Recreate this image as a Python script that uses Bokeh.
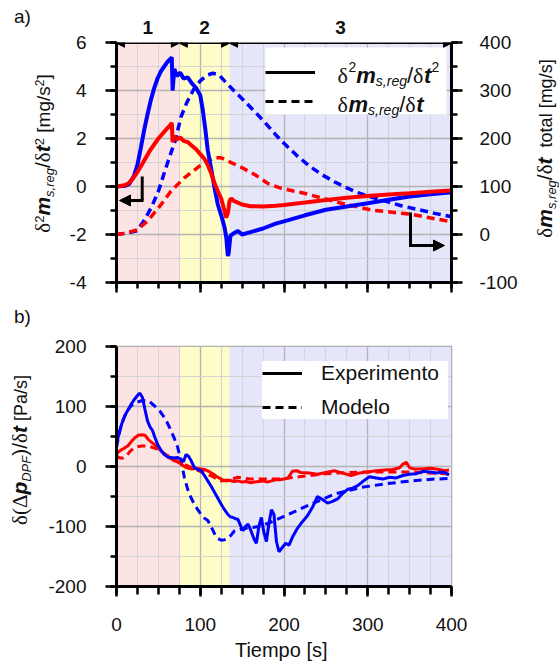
import math
from bokeh.plotting import figure
from bokeh.models import (Range1d, LinearAxis, FixedTicker, BoxAnnotation, Label,
                          Arrow, NormalHead, Legend, LegendItem, Div)
from bokeh.layouts import column
from bokeh.embed import file_html
from bokeh.resources import INLINE

SANS = "Liberation Sans"
SERIF = "Liberation Serif"
BLUE = "#0000ff"
RED = "#ff0000"
INK = "#111111"

# ---------------- data ----------------
region_edges = [0, 75, 135, 400]
region_names = ["1", "2", "3"]
region_colors = ["#fde4e4", "#fefdc8", "#e6e6fa"]

x_major = [0, 100, 200, 300, 400]
x_minor = list(range(0, 401, 25))
a_left_major = [-4, -2, 0, 2, 4, 6]
a_left_minor = list(range(-4, 7))
a_right_major = [-100, 0, 100, 200, 300, 400]
a_right_minor = list(range(-100, 401, 50))
b_major = [-200, -100, 0, 100, 200]
b_minor = list(range(-200, 201, 50))

# panel a) second derivative (left axis, mg/s^2)
a_t_blue = [0, 10, 15, 21, 25, 29, 33, 37, 41, 45, 49, 53, 57, 61, 64, 66, 67, 69, 72, 76,
            80, 85, 90, 95, 100, 103, 106, 109, 113, 117, 121, 125, 129, 131, 133, 134, 136, 140, 145, 150,
            160, 175, 190, 200, 225, 250, 275, 300, 325, 350, 375, 400]
a_d2_blue = [0, 0.03, 0.1, 0.45, 0.9, 1.6, 2.35, 3.0, 3.6, 4.1, 4.5, 4.8, 5.0, 5.2, 5.3, 5.38, 4.0, 4.9, 4.6, 4.75,
             4.5, 4.55, 4.3, 4.1, 3.8, 3.2, 2.4, 1.5, 0.75, -0.05, -0.75, -1.2, -1.7, -2.1, -2.9, -2.75, -2.05, -1.95, -1.85, -2.0,
             -1.9, -1.75, -1.55, -1.45, -1.2, -0.97, -0.83, -0.7, -0.55, -0.42, -0.32, -0.24]
a_t_red = [0, 10, 15, 20, 25, 30, 35, 40, 45, 50, 55, 60, 64, 66, 67, 69, 72, 76, 80, 85,
           90, 95, 100, 105, 109, 113, 117, 121, 125, 128, 131, 133, 135, 137, 140, 150, 160, 175, 190, 200,
           225, 250, 275, 300, 325, 350, 375, 400]
a_d2_red = [0, 0.05, 0.15, 0.35, 0.6, 0.9, 1.2, 1.5, 1.75, 2.0, 2.2, 2.4, 2.55, 2.65, 1.85, 2.1, 1.95, 2.05, 1.9, 1.85,
            1.7, 1.55, 1.35, 1.15, 0.9, 0.55, 0.15, -0.2, -0.5, -0.9, -1.3, -1.1, -0.6, -0.5, -0.6, -0.75, -0.82, -0.83, -0.8, -0.77,
            -0.67, -0.56, -0.47, -0.4, -0.33, -0.28, -0.22, -0.17]
# panel a) first derivative total (right axis, mg/s)
a_t_dm_blue = [0, 12, 25, 35, 42, 50, 57, 63, 70, 77, 84, 92, 100, 108, 115, 122, 130, 140, 150, 160,
               170, 180, 190, 200, 215, 230, 245, 260, 275, 290, 300, 320, 340, 360, 380, 400]
a_dm_blue = [0, 3, 8, 35, 58, 90, 128, 160, 195, 245, 275, 302, 320, 332, 336, 333, 318, 300, 283, 265,
             247, 228, 208, 190, 165, 143, 125, 110, 97, 86, 80, 70, 60, 52, 44, 37]
a_t_dm_red = [0, 12, 25, 37, 50, 65, 81, 101, 117, 125, 133, 149, 165, 181, 197, 224, 264, 304, 352, 392, 400]
a_dm_red = [0, 3, 10, 28, 55, 90, 118, 145, 160, 160, 153, 140, 125, 106, 96, 86, 67, 51, 42, 29, 27]

# panel b) d(dp)/dt (Pa/s)
b_t_blue_exp = [0, 3, 6, 10, 14, 18, 22, 26, 28, 31, 34, 37, 40, 43, 46, 49, 53, 57, 61, 65,
                69, 73, 77, 80, 83, 86, 89, 93, 97, 101, 105, 109, 113, 117, 121, 125, 129, 133, 136, 139,
                142, 145, 148, 151, 154, 157, 160, 164, 167, 170, 173, 176, 179, 182, 185, 188, 191, 194, 198, 202,
                206, 210, 216, 222, 228, 234, 240, 246, 252, 258, 264, 270, 276, 282, 288, 295, 302, 310, 318, 326,
                334, 342, 350, 358, 366, 374, 382, 390, 397]
b_blue_exp = [37, 55, 70, 85, 95, 105, 113, 120, 122, 115, 95, 76, 66, 60, 48, 37, 27, 20, 16, 15,
              14, 15, 12, 8, 20, 17, 10, -2, -5, -7, -15, -24, -33, -43, -53, -63, -72, -80, -84, -85,
              -87, -88, -98, -107, -100, -96, -105, -120, -128, -100, -85, -110, -125, -95, -72, -80, -125, -142, -135, -128,
              -131, -118, -103, -92, -82, -68, -50, -55, -61, -58, -54, -45, -38, -36, -32, -24, -17, -19, -21, -18,
              -19, -15, -13, -12, -8, -9, -11, -9, -14]
b_t_blue_mod = [0, 4, 8, 13, 18, 24, 31, 39, 47, 52, 57, 61, 65, 69, 73, 77, 81, 85, 89, 93,
                97, 101, 105, 109, 113, 117, 121, 125, 129, 133, 137, 141, 150, 160, 170, 184, 200, 232, 260, 292,
                320, 352, 380, 397]
b_blue_mod = [32, 60, 78, 93, 102, 107, 110, 109, 99, 92, 82, 72, 60, 47, 32, 10, -18, -38, -52, -63,
              -72, -80, -86, -90, -100, -112, -120, -123, -122, -120, -114, -107, -104, -102, -100, -93, -83, -63, -46, -35,
              -29, -24, -21, -20]
b_t_red_exp = [0, 3, 6, 10, 14, 18, 22, 26, 30, 34, 38, 42, 46, 50, 54, 58, 62, 66, 70, 74,
               78, 82, 86, 90, 95, 100, 105, 110, 115, 120, 125, 130, 135, 140, 145, 150, 155, 160, 165, 170,
               175, 180, 185, 190, 195, 200, 205, 210, 215, 220, 230, 240, 250, 260, 270, 280, 290, 300, 310, 320,
               330, 338, 342, 346, 350, 355, 365, 375, 385, 392, 397]
b_red_exp = [21, 25, 28, 31, 35, 42, 48, 52, 53, 52, 45, 40, 36, 31, 25, 20, 15, 12, 9, 7,
             3, -1, -3, -4, -3, -4, -5, -8, -12, -17, -21, -24, -23, -25, -24, -26, -25, -27, -26, -25,
             -24, -26, -24, -22, -22, -21, -19, -8, -7, -10, -11, -13, -10, -7, -11, -15, -11, -9, -7, -6,
             -5, -2, 4, 7, -2, -4, -4, -3, -5, -7, -6]
b_t_red_mod = [0, 4, 8, 12, 16, 20, 25, 30, 35, 40, 45, 50, 55, 60, 65, 70, 75, 80, 85, 90,
               95, 100, 105, 110, 115, 120, 125, 130, 135, 140, 145, 150, 160, 175, 190, 200, 225, 250, 275, 300,
               325, 350, 375, 397]
b_red_mod = [18, 14, 14, 18, 25, 30, 33, 34, 34, 33, 31, 28, 24, 19, 15, 11, 7, 4, 1, -2,
             -5, -8, -11, -14, -17, -21, -24, -23, -22, -20, -18, -19, -21, -21, -21, -20, -16, -12, -10, -9,
             -9, -9, -11, -12]

legend_b_labels = ["Experimento", "Modelo"]
x_title = "Tiempo  [s]"

# ---------------- geometry (page px) ----------------
FL, FW, FH = 116, 335, 240
A_TOP = 42          # top of panel a frame
A_H = 312           # height of panel a canvas
B_TOP = 346         # top of panel b frame (page)
B_BOT = 80          # bottom border of panel b
RB = 107            # right border
TOTAL_H = A_H + (B_TOP - A_H) + FH + B_BOT


def tx(px):
    return (px - FL) * 400.0 / FW


def ay(px):
    return 6 - (px - A_TOP) * 10.0 / FH


SANS_W = {' ': .278, '(': .333, ')': .333, ',': .278, '/': .278, '[': .278, ']': .278,
          '2': .556, 'a': .556, 'e': .556, 'g': .556, 'l': .222, 'm': .833, 'o': .556,
          'p': .556, 'r': .333, 's': .5, 't': .278, 'D': .722, 'F': .611, 'P': .667}
BI_W = dict(SANS_W, m=.889, t=.333, p=.611)
SERIF_W = {'δ': .5, '(': .333, 'Δ': .612, ')': .333}


def text_width(s, size, font, style):
    table = SERIF_W if font == SERIF else (BI_W if "bold" in style else SANS_W)
    return sum(table.get(c, .55) for c in s) * size


def math_text_in_frame(p, pieces, left, base):
    """legend texts (inside the frame): chained canvas-unit labels"""
    cur = left
    for (s, sz, f, st, sh) in pieces:
        p.add_layout(Label(x=cur, y=base + sh, x_units="canvas", y_units="canvas", text=s,
                           text_font=f, text_font_size=f"{sz}px", text_font_style=st,
                           text_color=INK, text_align="left", text_baseline="alphabetic",
                           level="overlay"))
        cur += text_width(s, sz, f, st)


def style_axis(ax, maj_out=10, min_out=6):
    ax.axis_line_width = 3
    ax.axis_line_color = "black"
    ax.major_tick_line_width = 2.5
    ax.minor_tick_line_width = 2.5
    ax.major_tick_line_color = "black"
    ax.minor_tick_line_color = "black"
    ax.major_tick_in = 0
    ax.minor_tick_in = 0
    ax.major_tick_out = maj_out
    ax.minor_tick_out = min_out
    ax.major_label_text_font = SANS
    ax.major_label_text_font_size = "19px"
    ax.major_label_text_color = INK


def plain_labels(ticks):
    return {v: str(v) for v in ticks}


def style_grid(p):
    for g in list(p.xgrid) + list(p.ygrid):
        g.grid_line_color = "#b4b4b4"
        g.grid_line_width = 1.3
        g.minor_grid_line_color = "#d4d4d4"
        g.minor_grid_line_width = 1.1


def add_regions(p):
    for i in range(len(region_names)):
        p.add_layout(BoxAnnotation(left=region_edges[i], right=region_edges[i + 1],
                                   fill_color=region_colors[i], fill_alpha=1.0,
                                   line_color=None, level="image"))


# ---------------- panel a ----------------
p1 = figure(frame_width=FW, frame_height=FH, x_range=Range1d(0, 400), y_range=Range1d(-4, 6),
            output_backend="svg", toolbar_location=None,
            min_border_left=FL, min_border_right=RB, min_border_top=A_TOP, min_border_bottom=A_H - A_TOP - FH,
            background_fill_color="white", border_fill_color="white")
p1.extra_y_ranges = {"r": Range1d(-100, 400)}
p1.outline_line_color = "#a0a0a0"
add_regions(p1)

p1.xaxis.ticker = FixedTicker(ticks=x_major, minor_ticks=x_minor)
style_axis(p1.xaxis[0], 10, 6)
p1.xaxis.major_label_overrides = {v: "" for v in x_major}
p1.xaxis.major_label_text_font_size = "1px"
p1.xaxis.major_label_standoff = 0
p1.yaxis.ticker = FixedTicker(ticks=a_left_major, minor_ticks=a_left_minor)
style_axis(p1.yaxis[0], 11, 6)
p1.yaxis.major_label_standoff = 19
p1.yaxis.major_label_overrides = plain_labels(a_left_major)
ax_r = LinearAxis(y_range_name="r", ticker=FixedTicker(ticks=a_right_major, minor_ticks=a_right_minor))
style_axis(ax_r, 11, 6)
ax_r.major_label_standoff = 17
ax_r.major_label_overrides = plain_labels(a_right_major)
p1.add_layout(ax_r, "right")

region_mids = [(region_edges[i] + region_edges[i + 1]) / 2 for i in range(len(region_names))]
ax_top = LinearAxis(ticker=FixedTicker(ticks=region_mids, minor_ticks=[]),
                    major_label_overrides={m: n for m, n in zip(region_mids, region_names)},
                    axis_line_color=None, major_tick_line_color=None, minor_tick_line_color=None,
                    major_label_standoff=3, major_label_text_font=SANS, major_label_text_font_size="19px",
                    major_label_text_font_style="bold", major_label_text_color=INK)
p1.add_layout(ax_top, "above")

p1.xgrid.ticker = FixedTicker(ticks=x_major, minor_ticks=x_minor)
p1.ygrid.ticker = FixedTicker(ticks=a_left_major, minor_ticks=a_left_minor)
style_grid(p1)

p1.line(a_t_dm_blue, a_dm_blue, y_range_name="r", line_color=BLUE, line_width=3.5, line_dash="8 5")
p1.line(a_t_dm_red, a_dm_red, y_range_name="r", line_color=RED, line_width=3.5, line_dash="8 5")
p1.line(a_t_blue, a_d2_blue, line_color=BLUE, line_width=4)
p1.line(a_t_red, a_d2_red, line_color=RED, line_width=4)

p1.add_layout(BoxAnnotation(left=tx(265), right=tx(446), top=ay(47), bottom=ay(114),
                            fill_color="white", fill_alpha=1.0, line_color=None, level="annotation"))
k1 = p1.line(a_t_blue, a_d2_blue, line_color="black", line_width=3, visible=False)
k2 = p1.line(a_t_dm_blue, a_dm_blue, y_range_name="r", line_color="black", line_width=3,
             line_dash="8 5", visible=False)
leg1 = Legend(items=[LegendItem(label="", renderers=[k1]), LegendItem(label="", renderers=[k2])],
              location=(265 - FL, (A_TOP + FH) - 114), orientation="vertical",
              glyph_width=50, glyph_height=26, label_height=26, label_width=100,
              label_standoff=18, padding=6, spacing=3, margin=0,
              border_line_color=None, background_fill_alpha=0.0, inactive_fill_alpha=0.0,
              label_text_font=SANS, label_text_font_size="12px")
p1.add_layout(leg1, "center")

for i in range(len(region_names)):
    p1.add_layout(Arrow(x_start=region_edges[i], y_start=5.97, x_end=region_edges[i + 1], y_end=5.97,
                        line_color="black", line_width=1.5,
                        start=NormalHead(size=8, fill_color="black", line_color="black", line_width=1),
                        end=NormalHead(size=8, fill_color="black", line_color="black", line_width=1)))

p1.add_layout(Arrow(x_start=tx(141.7), y_start=ay(176), x_end=tx(141.7), y_end=ay(200),
                    line_color="black", line_width=3, end=None))
p1.add_layout(Arrow(x_start=tx(143), y_start=ay(200), x_end=tx(119), y_end=ay(200),
                    line_color="black", line_width=3,
                    end=NormalHead(size=11, fill_color="black", line_color="black", line_width=1)))
p1.add_layout(Arrow(x_start=tx(410), y_start=ay(212), x_end=tx(410), y_end=ay(245),
                    line_color="black", line_width=3, end=None))
p1.add_layout(Arrow(x_start=tx(408.5), y_start=ay(245), x_end=tx(444), y_end=ay(245),
                    line_color="black", line_width=3,
                    end=NormalHead(size=11, fill_color="black", line_color="black", line_width=1)))

BI, IT, NO = "bold italic", "italic", "normal"
math_text_in_frame(p1, [("δ", 22, SERIF, NO, 0), ("2", 14, SANS, NO, -9), ("m", 22, SANS, BI, 0),
                        ("s,reg", 14, SANS, IT, 5), ("/", 22, SANS, NO, 0), ("δ", 22, SERIF, NO, 0),
                        ("t", 22, SANS, BI, 0), ("2", 14, SANS, NO, -9)], 337, 75)
math_text_in_frame(p1, [("δ", 22, SERIF, NO, 0), ("m", 22, SANS, BI, 0), ("s,reg", 14, SANS, IT, 5),
                        ("/", 22, SANS, NO, 0), ("δ", 22, SERIF, NO, 0), ("t", 22, SANS, BI, 0)], 337, 104)

# ---------------- panel b ----------------
p2 = figure(frame_width=FW, frame_height=FH, x_range=Range1d(0, 400), y_range=Range1d(-200, 200),
            output_backend="svg", toolbar_location=None,
            min_border_left=FL, min_border_right=RB, min_border_top=B_TOP - A_H, min_border_bottom=B_BOT,
            background_fill_color="white", border_fill_color="white")
p2.outline_line_color = "#a0a0a0"
p2.outline_line_width = 1.5
add_regions(p2)
p2.xaxis.ticker = FixedTicker(ticks=x_major, minor_ticks=x_minor)
style_axis(p2.xaxis[0], 10, 8)
p2.xaxis.major_label_standoff = 21
p2.xaxis.axis_label = x_title
p2.xaxis.axis_label_text_font = SANS
p2.xaxis.axis_label_text_font_size = "20px"
p2.xaxis.axis_label_text_font_style = "normal"
p2.xaxis.axis_label_text_color = INK
p2.xaxis.axis_label_standoff = 5
p2.yaxis.ticker = FixedTicker(ticks=b_major, minor_ticks=b_minor)
style_axis(p2.yaxis[0], 11, 6)
p2.yaxis.major_label_standoff = 19
p2.yaxis.major_label_overrides = plain_labels(b_major)
p2.xgrid.ticker = FixedTicker(ticks=x_major, minor_ticks=x_minor)
p2.ygrid.ticker = FixedTicker(ticks=b_major, minor_ticks=b_minor)
style_grid(p2)

p2.line(b_t_red_mod, b_red_mod, line_color=RED, line_width=3, line_dash="8 5")
p2.line(b_t_blue_mod, b_blue_mod, line_color=BLUE, line_width=3, line_dash="8 5")
p2.line(b_t_red_exp, b_red_exp, line_color=RED, line_width=3)
p2.line(b_t_blue_exp, b_blue_exp, line_color=BLUE, line_width=3)

k3 = p2.line(b_t_blue_exp, b_blue_exp, line_color="black", line_width=3, visible=False)
k4 = p2.line(b_t_blue_mod, b_blue_mod, line_color="black", line_width=3, line_dash="8 5", visible=False)
leg2 = Legend(items=[LegendItem(label=legend_b_labels[0], renderers=[k3]),
                     LegendItem(label=legend_b_labels[1], renderers=[k4])],
              location=(262 - FL, (B_TOP + FH) - 419), orientation="vertical",
              glyph_width=40, glyph_height=24, label_height=24, label_width=127,
              label_standoff=19, padding=3, spacing=10, margin=0,
              border_line_color=None, background_fill_color="white", background_fill_alpha=1.0,
              inactive_fill_alpha=0.0,
              label_text_font=SANS, label_text_font_size="21px", label_text_color=INK)
p2.add_layout(leg2, "center")

# ---------------- texts outside the plot frames (HTML overlay) ----------------
SER = "font-family:'Liberation Serif';font-size:21px"
SUP = "font-size:13px;vertical-align:0.45em;line-height:0"
SUB = "font-size:13px;vertical-align:-0.28em;line-height:0;font-style:italic"
BIS = "font-weight:bold;font-style:italic;font-size:21px"


def overlay_text(html, x, y, size, rotated=False):
    yl = y - TOTAL_H
    if rotated:
        tf = f"translate({x}px,{yl}px) rotate(-90deg) translateX(-50%)"
    else:
        tf = f"translate({x}px,{yl}px)"
    return (f'<div style="position:absolute;left:0;top:0;transform-origin:0 0;transform:{tf};'
            f"white-space:nowrap;line-height:1;font-family:'Liberation Sans';font-size:{size}px;"
            f'color:{INK}">{html}</div>')


lab_a_left = (f'<span style="{SER}">δ</span><span style="{SUP}">2</span><span style="{BIS}">m</span>'
              f'<span style="{SUB}">s,reg</span><span style="font-size:21px">/</span>'
              f'<span style="{SER}">δ</span><span style="{BIS}">t</span><span style="{SUP}">2</span>'
              f'&nbsp;[mg/s<span style="font-size:12px;vertical-align:0.5em;line-height:0">2</span>]')
lab_a_right = (f'<span style="{SER}">δ</span><span style="{BIS}">m</span>'
               f'<span style="{SUB}">s,reg</span><span style="font-size:21px">/</span>'
               f'<span style="{SER}">δ</span><span style="{BIS}">t</span>&nbsp;&nbsp;total [mg/s]')
lab_b_left = (f'<span style="{SER}">δ(Δ</span><span style="{BIS}">p</span>'
              f'<span style="{SUB}">DPF</span><span style="font-size:21px">)/</span>'
              f'<span style="{SER}">δ</span><span style="{BIS}">t</span> [Pa/s]')

overlay = (overlay_text("a)", 14, 7, 19) +
           overlay_text("b)", 14, 307, 19) +
           overlay_text(lab_a_left, 32, 153.5, 19, rotated=True) +
           overlay_text(lab_a_right, 534, 148.5, 18, rotated=True) +
           overlay_text(lab_b_left, 9, 450, 18, rotated=True))
div = Div(text=f'<div style="position:relative;width:0;height:0;overflow:visible;z-index:10">{overlay}</div>',
          width=1, height=0, margin=0,
          styles={"overflow": "visible", "font-size": "0px", "line-height": "0", "padding": "0"})

layout = column(p1, p2, div, spacing=0)
open("out.html", "w").write(file_html(layout, INLINE))
